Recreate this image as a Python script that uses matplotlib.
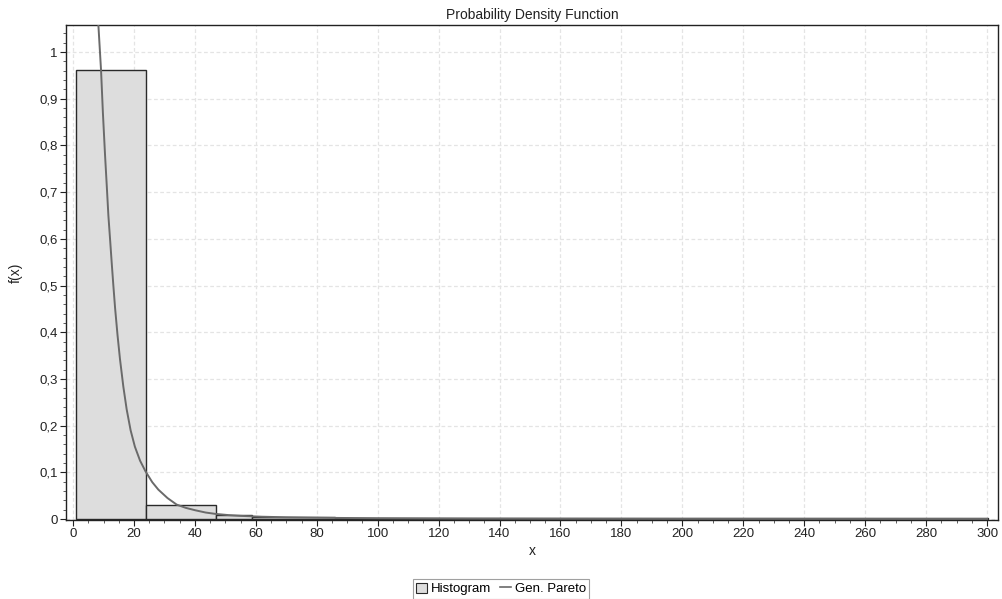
import matplotlib
matplotlib.use("Agg")
import matplotlib.pyplot as plt
from matplotlib.ticker import MultipleLocator, FuncFormatter
from matplotlib.patches import Patch
from matplotlib.lines import Line2D

plt.rcParams['font.family'] = ['Liberation Sans', 'DejaVu Sans']

# histogram bins (edges) and heights
bin_edges = [1.0, 23.8, 46.9, 58.6, 86.0, 300.3]
bin_heights = [0.961, 0.031, 0.009, 0.005, 0.0015]

# fitted Gen. Pareto density
curve_x = [7.6, 8.3, 9.2, 9.8, 10.5, 11.1, 11.6, 12.2, 12.7, 13.2, 13.8, 14.6,
           15.4, 16.5, 17.6, 18.9, 20.3, 22.0, 23.8, 26.0, 28.0, 31.0, 34.0,
           37.0, 40.0, 43.5, 46.8, 51.0, 55.0, 62.0, 70.0, 85.0, 100.0, 130.0,
           160.0, 200.0, 250.0, 300.0]
curve_y = [1.15, 1.06, 0.96, 0.87, 0.78, 0.71, 0.65, 0.595, 0.548, 0.503,
           0.452, 0.394, 0.343, 0.284, 0.235, 0.190, 0.155, 0.125, 0.102,
           0.079, 0.063, 0.045, 0.031, 0.024, 0.019, 0.014, 0.011, 0.0085,
           0.0068, 0.0050, 0.0038, 0.0025, 0.0018, 0.0011, 0.0008, 0.0005,
           0.0004, 0.0003]

x_ticks_step = 20
y_ticks_step = 0.1

fig = plt.figure(figsize=(10.02, 5.99), dpi=100)
ax = fig.add_axes([0.0659, 0.1319, 0.9301, 0.8264])

widths = [bin_edges[i + 1] - bin_edges[i] for i in range(len(bin_heights))]
ax.bar(bin_edges[:-1], bin_heights, width=widths, align='edge',
       color='#dddddd', edgecolor='#2a2a2a', linewidth=1.0, zorder=2)
ax.plot(curve_x, curve_y, color='#6a6a6a', linewidth=1.4, zorder=3)

ax.set_xlim(-2.3, 303.6)
ax.set_ylim(-0.002, 1.058)

ax.xaxis.set_major_locator(MultipleLocator(x_ticks_step))
ax.xaxis.set_minor_locator(MultipleLocator(5))
ax.yaxis.set_major_locator(MultipleLocator(y_ticks_step))
ax.yaxis.set_minor_locator(MultipleLocator(0.02))

def comma_fmt(v, pos):
    s = ('%.1f' % v).rstrip('0').rstrip('.')
    if s == '-0':
        s = '0'
    return s.replace('.', ',')

ax.yaxis.set_major_formatter(FuncFormatter(comma_fmt))
ax.tick_params(which='major', direction='out', length=4, width=0.8,
               labelsize=9.5, colors='#222222', pad=2)
ax.tick_params(which='minor', direction='out', length=2, width=0.6,
               colors='#444444')

ax.grid(True, which='major', color='#e4e4e4', linestyle=(0, (3, 2)),
        linewidth=0.9, zorder=0)
ax.set_axisbelow(True)
for sp in ax.spines.values():
    sp.set_color('#222222')
    sp.set_linewidth(1.0)

ax.set_title('Probability Density Function', fontsize=10, color='#222222', pad=4)
ax.set_xlabel('x', fontsize=10, color='#222222', labelpad=3)
ax.set_ylabel('f(x)', fontsize=10, color='#222222', labelpad=12)

handles = [Patch(facecolor='#dddddd', edgecolor='#2a2a2a', linewidth=0.8),
           Line2D([0], [0], color='#6a6a6a', linewidth=1.2)]
leg = fig.legend(handles, ['Histogram', 'Gen. Pareto'], loc='center',
                 bbox_to_anchor=(0.5, 0.0167), ncol=2, fontsize=9.5,
                 frameon=True, fancybox=False, handlelength=0.8,
                 handleheight=0.8, handletextpad=0.3, columnspacing=0.7,
                 borderpad=0.25, borderaxespad=0)
leg.get_frame().set_edgecolor('#888888')
leg.get_frame().set_linewidth(0.8)

fig.savefig('out.png', dpi=100, facecolor='white')
